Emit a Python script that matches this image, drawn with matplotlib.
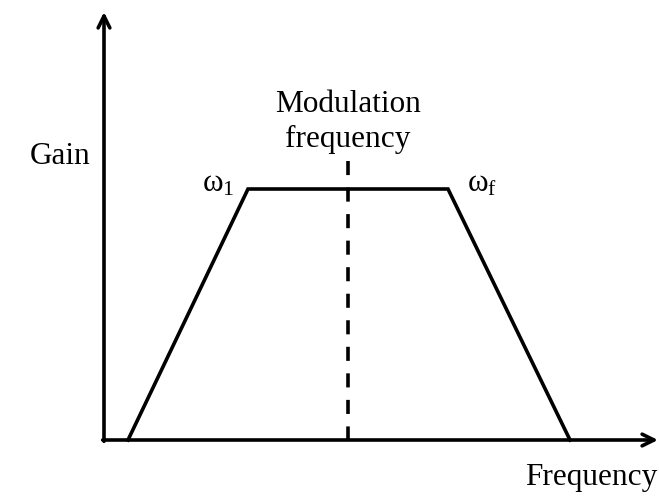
import matplotlib
matplotlib.use("Agg")
import matplotlib.pyplot as plt

plt.rcParams['font.family'] = ['Liberation Serif', 'DejaVu Serif']
plt.rcParams['mathtext.fontset'] = 'custom'
plt.rcParams['mathtext.rm'] = 'Liberation Serif'
plt.rcParams['mathtext.it'] = 'Liberation Serif'

# Data (arbitrary units)
freq = [24, 144, 344, 466]
gain = [0, 251, 251, 0]
mod_freq = 244
mod_top = 279
x_max = 554
y_max = 428
labels = {"w1": r"$\mathrm{ω}_{1}$", "wf": r"$\mathrm{ω}_{\mathrm{f}}$"}

fig = plt.figure(figsize=(6.59, 4.97), dpi=100)
ax = fig.add_axes([0, 0, 1, 1])
ax.set_xlim(-104, 555)
ax.set_ylim(-57, 440)
ax.axis('off')

lw = 2.6
ax.plot(freq, gain, color='black', lw=lw, solid_joinstyle='miter')
ax.plot([mod_freq, mod_freq], [mod_top, 0], color='black', lw=lw, ls=(0, (3.9, 3.45)),
        dash_capstyle='butt')

arrow = dict(arrowstyle='->,head_length=0.85,head_width=0.42', lw=lw, color='black',
             shrinkA=0, shrinkB=0)
ax.annotate('', xy=(0, y_max), xytext=(0, -1.3), arrowprops=arrow)
ax.annotate('', xy=(x_max, 0), xytext=(-1.3, 0), arrowprops=arrow)

fs = 22.5
ax.text(-44, 283, 'Gain', fontsize=fs, ha='center', va='center')
ax.text(mod_freq, 335, 'Modulation', fontsize=fs, ha='center', va='center')
ax.text(mod_freq, 301, 'frequency', fontsize=fs, ha='center', va='center')
ax.text(freq[1] - 30, 256, labels["w1"], fontsize=fs, ha='center', va='center')
ax.text(freq[2] + 34, 256, labels["wf"], fontsize=fs, ha='center', va='center')
ax.text(487, -38, 'Frequency', fontsize=fs, ha='center', va='center')

fig.savefig('out.png', dpi=100)
